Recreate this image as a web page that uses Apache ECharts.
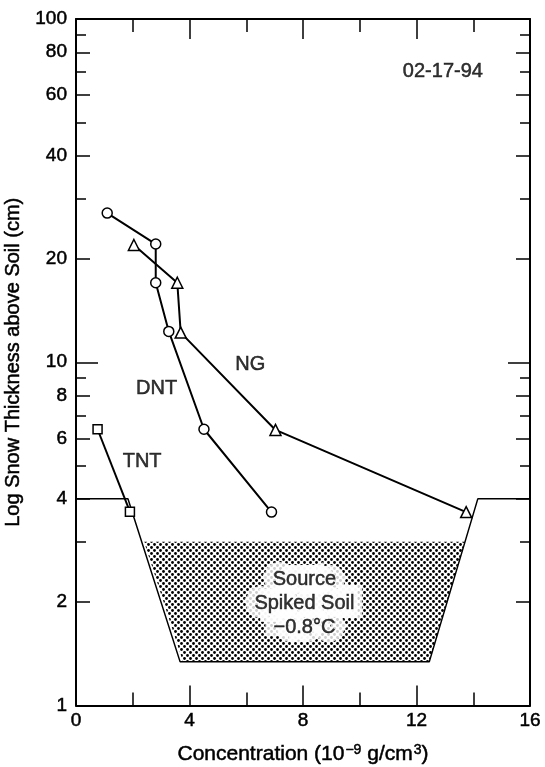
<!DOCTYPE html>
<html>
<head>
<meta charset="utf-8">
<script src="https://cdn.jsdelivr.net/npm/echarts@6/dist/echarts.min.js"></script>
<style>
html,body{margin:0;padding:0;background:#fff;}
#chart{width:545px;height:767px;}
</style>
</head>
<body>
<div id="chart"></div>
<script>
// ---- data ----
const dntX = [1.10, 2.81, 2.81, 3.27, 4.51, 6.89];
const dntY = [27.2, 22.1, 17.05, 12.3, 6.38, 3.66];
const ngX = [2.04, 3.57, 3.69, 7.03, 13.75];
const ngY = [21.96, 17.05, 12.2, 6.35, 3.66];
const tntX = [0.76, 1.90];
const tntY = [6.38, 3.67];
// source outline and shaded soil region
const outlineX = [0, 1.83, 3.67, 12.45, 14.16, 16];
const outlineY = [4, 4, 1.34, 1.34, 4, 4];
const soilX = [2.40, 13.70, 12.45, 3.77];
const soilY = [3, 3, 1.34, 1.34];
// annotations
const noteText = ['NG', 'DNT', 'TNT', '02-17-94'];
const noteX = [6.14, 2.84, 2.33, 12.93];
const noteY = [9.82, 8.40, 5.13, 70.2];
const soilText = ['Source', 'Spiked Soil', '\u22120.8\u00b0C'];
const soilTextX = 8.05;
const soilTextY = 1.985;
// ticks
const xTicks = [0, 4, 8, 12, 16];
const yLabels = [1, 2, 4, 6, 8, 10, 20, 40, 60, 80, 100];
const yMidTicks = [2, 4, 6, 8, 20, 40, 60, 80];
const ySmallTicks = [3, 5, 7, 9, 30, 50, 70, 90];
const yDecadeTicks = [10];
const xTitle = 'Concentration (10{sup|\u22129} g/cm{sup|3})';
const yTitle = 'Log Snow Thickness above Soil (cm)';

// ---- pattern ----
const pc = document.createElement('canvas');
pc.width = 6; pc.height = 6;
const pctx = pc.getContext('2d');
pctx.fillStyle = '#000';
pctx.beginPath(); pctx.arc(1.5, 1.5, 1.4, 0, Math.PI * 2); pctx.fill();
pctx.beginPath(); pctx.arc(4.5, 4.5, 1.4, 0, Math.PI * 2); pctx.fill();
const stipple = { image: pc, repeat: 'repeat' };

const FONT = "'Liberation Sans', Arial, Helvetica, sans-serif";
const black = '#000';
const heavy = { textBorderColor: black, textBorderWidth: 0.5 };

function zip(xs, ys) { return xs.map((x, i) => [x, ys[i]]); }

function yAx(pos, ticks, len, withLabels, withLine) {
  const ax = {
    type: 'log', logBase: 10, min: 1, max: 100, position: pos, gridIndex: 0,
    axisLine: { show: withLine, lineStyle: { color: black, width: 2 } },
    axisTick: { show: true, inside: true, length: len, customValues: ticks, lineStyle: { color: black, width: 1.5 } },
    axisLabel: withLabels ? Object.assign({ show: true, customValues: yLabels, color: black, fontSize: 19, fontFamily: FONT, margin: 9 }, heavy) : { show: false },
    splitLine: { show: false },
    minorTick: { show: false }
  };
  if (withLabels && pos === 'left') {
    ax.name = yTitle;
    ax.nameLocation = 'middle';
    ax.nameGap = 44;
    ax.nameTextStyle = Object.assign({ color: black, fontSize: 20, fontFamily: FONT }, heavy);
  }
  return ax;
}

function xAx(pos, withLabels) {
  const ax = {
    type: 'value', min: 0, max: 16, interval: 4, position: pos, gridIndex: 0,
    axisLine: { show: true, lineStyle: { color: black, width: 2 } },
    axisTick: { show: true, inside: true, length: 20, lineStyle: { color: black, width: 1.5 } },
    minorTick: { show: true, splitNumber: 2, length: 13, lineStyle: { color: black, width: 1.5 } },
    axisLabel: withLabels ? Object.assign({ show: true, customValues: xTicks, color: black, fontSize: 19, fontFamily: FONT, margin: 6 }, heavy) : { show: false },
    splitLine: { show: false }
  };
  if (withLabels) {
    ax.name = xTitle;
    ax.nameLocation = 'middle';
    ax.nameGap = 38;
    ax.nameTextStyle = Object.assign({
      color: black, fontSize: 21, fontFamily: FONT,
      rich: { sup: Object.assign({ fontSize: 14, fontFamily: FONT, color: black, verticalAlign: 'top', padding: [0, 0, 4, 1] }, heavy) }
    }, heavy);
  }
  return ax;
}

const markerStyle = { color: '#fff', borderColor: black, borderWidth: 1.5 };
function dataSeries(name, xs, ys, symbol, size) {
  return {
    name: name, type: 'line', xAxisIndex: 0, yAxisIndex: 0,
    data: zip(xs, ys), symbol: symbol, symbolSize: size, showAllSymbol: true,
    lineStyle: { color: black, width: 2 }, itemStyle: markerStyle,
    emphasis: { disabled: true }, z: 5, animation: false
  };
}

const chart = echarts.init(document.getElementById('chart'), null, { renderer: 'canvas' });
chart.setOption({
  animation: false,
  backgroundColor: '#fff',
  grid: { left: 76, right: 15, top: 19, bottom: 61.5, containLabel: false, outerBoundsMode: 'none' },
  xAxis: [xAx('bottom', true), xAx('top', false)],
  yAxis: [
    yAx('left', yMidTicks, 14, true, true),
    yAx('left', ySmallTicks, 10, false, false),
    yAx('left', yDecadeTicks, 22, false, false),
    yAx('right', yMidTicks, 14, false, true),
    yAx('right', ySmallTicks, 10, false, false),
    yAx('right', yDecadeTicks, 22, false, false)
  ],
  series: [
    {
      name: 'soil', type: 'custom', xAxisIndex: 0, yAxisIndex: 0, z: 1,
      data: [[soilTextX, soilTextY]],
      renderItem: function (params, api) {
        const pts = soilX.map((x, i) => api.coord([x, soilY[i]]));
        return { type: 'polygon', shape: { points: pts }, style: { fill: stipple, stroke: null } };
      },
      silent: true
    },
    {
      name: 'outline', type: 'line', xAxisIndex: 0, yAxisIndex: 0, z: 2,
      data: zip(outlineX, outlineY), symbol: 'none',
      lineStyle: { color: black, width: 1.5 }, silent: true
    },
    {
      name: 'soilTextHalo', type: 'scatter', xAxisIndex: 0, yAxisIndex: 0, z: 3,
      data: [[soilTextX, soilTextY]], symbolSize: 0, silent: true,
      label: {
        show: true, position: 'inside', formatter: soilText.join('\n'),
        color: '#fff', fontSize: 20, fontFamily: FONT, lineHeight: 24, align: 'center',
        textBorderColor: '#fff', textBorderWidth: 18
      }
    },
    {
      name: 'soilText', type: 'scatter', xAxisIndex: 0, yAxisIndex: 0, z: 4,
      data: [[soilTextX, soilTextY]], symbolSize: 0, silent: true,
      label: Object.assign({
        show: true, position: 'inside', formatter: soilText.join('\n'),
        color: black, fontSize: 20, fontFamily: FONT, lineHeight: 24, align: 'center'
      }, heavy)
    },
    dataSeries('TNT', tntX, tntY, 'rect', 9),
    dataSeries('DNT', dntX, dntY, 'circle', 10),
    dataSeries('NG', ngX, ngY, 'triangle', 11),
    {
      name: 'notes', type: 'scatter', xAxisIndex: 0, yAxisIndex: 0, z: 6,
      data: noteX.map((x, i) => ({ value: [x, noteY[i]], name: noteText[i] })),
      symbolSize: 0, silent: true,
      label: Object.assign({ show: true, position: 'inside', formatter: '{b}', color: black, fontSize: 20, fontFamily: FONT }, heavy)
    }
  ]
});
</script>
</body>
</html>
